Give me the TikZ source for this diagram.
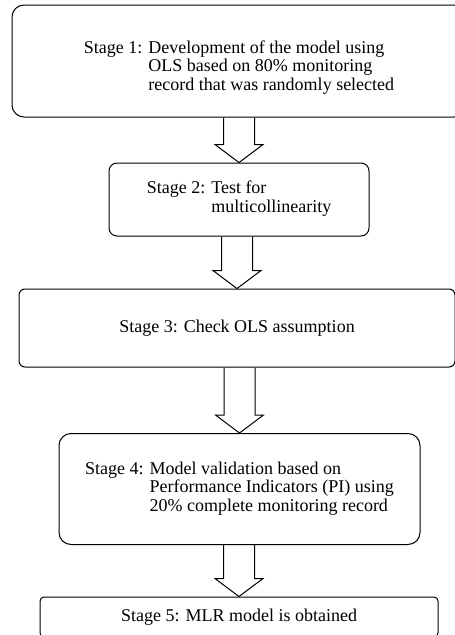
\documentclass[tikz,border=0pt]{standalone}
\usepackage{fontspec}
\setmainfont{Liberation Serif}
\usetikzlibrary{calc}

% hollow block arrow from the bottom of one stage to the top of the next
\newcommand{\blockarrow}[2]{%
  \draw[line width=1pt, line join=miter] ($(#1.south -| #2.north)+(-15.5,0)$) -- ($(#2.north)+(-15.5,-18)$) -- ($(#2.north)+(-24,-18)$)
    -- (#2.north) -- ($(#2.north)+(24,-18)$) -- ($(#2.north)+(15.5,-18)$) -- ($(#1.south -| #2.north)+(15.5,0)$);}

\begin{document}
\begin{tikzpicture}[x=1pt, y=-1pt,
    stagebox/.style={draw, line width=1pt, rectangle, inner sep=0pt, font=\fontsize{18}{18.5}\selectfont}]
    \clip (0,0) rectangle (455,635);

    \node[stagebox, rounded corners=12pt, minimum width=454pt, minimum height=112pt] (stage1) at (239,61)
        {\begin{tabular}{@{}l@{ }l@{}}\rule{0pt}{27pt}Stage 1: & Development of the model using\\ & OLS based on 80\% monitoring\\ & record that was randomly selected\end{tabular}};
    \node[stagebox, rounded corners=8pt, minimum width=260pt, minimum height=73pt] (stage2) at (239,199.5)
        {\begin{tabular}{@{}l@{ }l@{}}Stage 2: & Test for\\ & multicollinearity\end{tabular}};
    \node[stagebox, rounded corners=6pt, minimum width=436pt, minimum height=78pt] (stage3) at (237,328)
        {Stage 3: Check OLS assumption};
    \node[stagebox, rounded corners=12pt, minimum width=361pt, minimum height=111pt] (stage4) at (239.5,489)
        {\begin{tabular}{@{}l@{ }l@{}}Stage 4: & Model validation based on\\ & Performance Indicators (PI) using\\ & 20\% complete monitoring record\end{tabular}};
    \node[stagebox, rounded corners=4pt, minimum width=398pt, minimum height=40pt] (stage5) at (239,617)
        {Stage 5: MLR model is obtained};

    \blockarrow{stage1}{stage2}
    \blockarrow{stage2}{stage3}
    \blockarrow{stage3}{stage4}
    \blockarrow{stage4}{stage5}
\end{tikzpicture}
\end{document}
